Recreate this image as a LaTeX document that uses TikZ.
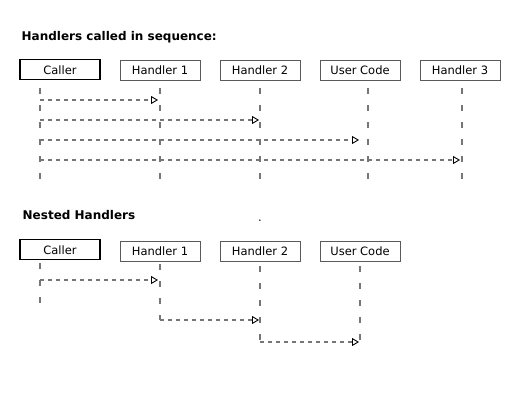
\documentclass[tikz,border=0pt]{standalone}
\usepackage{fontspec}
\setmainfont{DejaVu Sans}
\usetikzlibrary{arrows.meta}
\definecolor{linegray}{HTML}{767676}
\definecolor{boxgray}{HTML}{5A5A5A}
\tikzset{
  objbox/.style={draw=boxgray, line width=1pt, minimum width=80pt, minimum height=20pt, inner sep=0pt,
    font=\fontsize{11.5}{13}\selectfont, text=black},
  callerbox/.style={objbox, draw=black, line width=1.3pt},
  lifeline/.style={draw=linegray, line width=1.3pt, dash pattern=on 6pt off 11pt},
  msg/.style={draw=linegray, line width=1.2pt, dash pattern=on 4pt off 4pt,
    -{Triangle[open, length=7pt, width=8pt, color=black, line width=0.9pt]}},
  title/.style={anchor=base west, inner sep=0pt, font=\fontsize{12}{14}\selectfont\bfseries}
}
\begin{document}
\begin{tikzpicture}[x=1pt,y=-1pt]
\useasboundingbox[fill=white] (0,0) rectangle (529,400);
% ---------- top section ----------
\node[title] (t1) at (21.5,40) {Handlers called in sequence:};
\node[callerbox] (tc) at (60,69.8) {Caller};
\node[objbox] (th1) at (160,70) {Handler 1};
\node[objbox] (th2) at (260,70) {Handler 2};
\node[objbox] (tuc) at (360,70) {User Code};
\node[objbox] (th3) at (460,70) {Handler 3};
% lifelines
\coordinate (tcS) at (40,88);   \coordinate (tcE) at (40,180);
\coordinate (th1S) at (160,88); \coordinate (th1E) at (160,180);
\coordinate (th2S) at (260,88); \coordinate (th2E) at (260,180);
\coordinate (tucS) at (368,88); \coordinate (tucE) at (368,180);
\coordinate (th3S) at (462,88); \coordinate (th3E) at (462,180);
\draw[lifeline] (tcS) -- (tcE);
\draw[lifeline] (th1S) -- (th1E);
\draw[lifeline] (th2S) -- (th2E);
\draw[lifeline] (tucS) -- (tucE);
\draw[lifeline] (th3S) -- (th3E);
% messages
\coordinate (m1s) at (40,100);  \coordinate (m1e) at (158,100);
\coordinate (m2s) at (40,120);  \coordinate (m2e) at (259,120);
\coordinate (m3s) at (40,140);  \coordinate (m3e) at (359,140);
\coordinate (m4s) at (40,160);  \coordinate (m4e) at (460,160);
\draw[msg] (m1s) -- (m1e);
\draw[msg] (m2s) -- (m2e);
\draw[msg] (m3s) -- (m3e);
\draw[msg] (m4s) -- (m4e);
% ---------- bottom section ----------
\node[title] (t2) at (22.5,219.5) {Nested Handlers};
\node[anchor=base, inner sep=0pt, font=\fontsize{11.5}{13}\selectfont] (dot) at (260,221) {.};
\node[callerbox] (bc) at (60,249.8) {Caller};
\node[objbox] (bh1) at (160,251) {Handler 1};
\node[objbox] (bh2) at (260,251) {Handler 2};
\node[objbox] (buc) at (360,251) {User Code};
\coordinate (bcS) at (40,263);   \coordinate (bcE) at (40,303);
\coordinate (bh1S) at (160,264); \coordinate (bh1E) at (160,320);
\coordinate (bh2S) at (260,266); \coordinate (bh2E) at (260,342);
\coordinate (bucS) at (360,266); \coordinate (bucE) at (360,342);
\draw[lifeline] (bcS) -- (bcE);
\draw[lifeline] (bh1S) -- (bh1E);
\draw[lifeline] (bh2S) -- (bh2E);
\draw[lifeline] (bucS) -- (bucE);
\coordinate (n1s) at (40,280);  \coordinate (n1e) at (158,280);
\draw[msg] (n1s) -- (n1e);
\draw[msg] (bh1E) -- (259,320);
\draw[msg] (bh2E) -- (359,342);
\end{tikzpicture}
\end{document}
